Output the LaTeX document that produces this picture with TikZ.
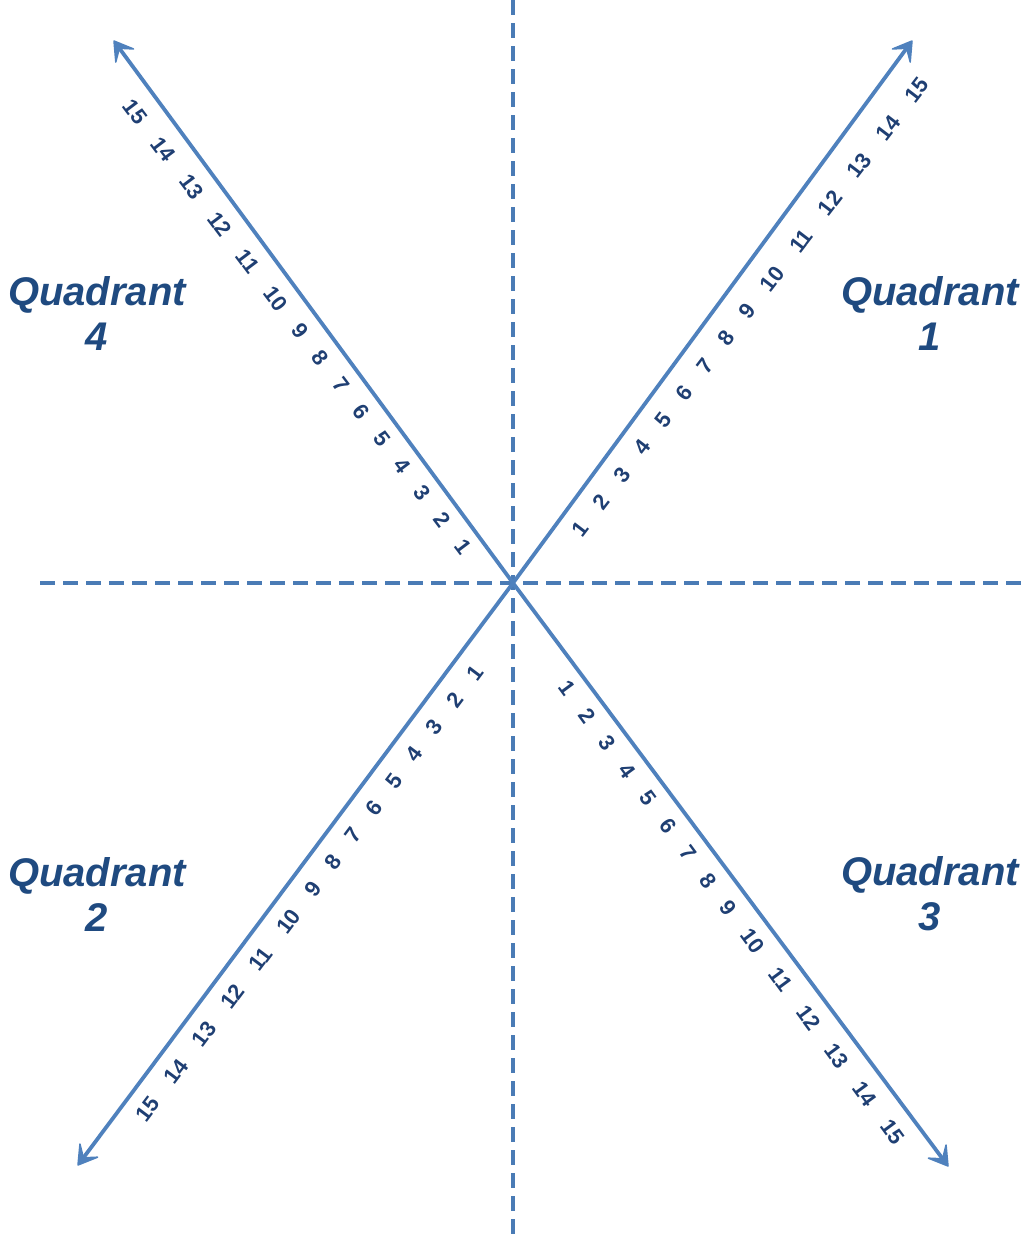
\documentclass[tikz,border=0pt]{standalone}
\usepackage{fontspec}
\setmainfont{Liberation Sans}
\usetikzlibrary{arrows.meta,calc}
\definecolor{axisblue}{HTML}{4F81BD}
\definecolor{dashblue}{HTML}{4A7BB5}
\definecolor{numblue}{HTML}{1F3F73}
\definecolor{quadblue}{HTML}{1F4A80}
\begin{document}
\begin{tikzpicture}[x=1pt,y=-1pt,
  axisline/.style={dashblue, line width=3.8pt, dash pattern=on 15pt off 8pt},
  ray/.style={axisblue, line width=3.8pt},
  tipshape/.style={fill=axisblue, draw=axisblue, line width=1.5pt, line join=round},
  num/.style={font=\fontsize{22}{22}\selectfont\bfseries, text=numblue, inner sep=0pt},
  quad/.style={font=\fontsize{40}{45}\selectfont\bfseries\itshape, text=quadblue, align=center, inner sep=0pt}]
\useasboundingbox (0,0) rectangle (1027,1240);
\coordinate (O) at (513,583);
\coordinate (vt) at (513,0);
\coordinate (vb) at (513,1240);
\coordinate (hl) at (40,583);
\coordinate (hr) at (1022,583);
\draw[axisline] (vt) -- (vb);
\draw[axisline] (hl) -- (hr);
% arrow tips
\coordinate (t1) at (912,41);
\coordinate (t4) at (114,41);
\coordinate (t2) at (78,1165);
\coordinate (t3) at (948,1166);
\foreach \t in {t1,t2,t3,t4}{
  \coordinate (\t-in) at ($(\t)!9pt!(O)$);
  \coordinate (\t-b) at ($(\t)!18pt!(O)$);
  \coordinate (\t-l) at ($(\t-b)!11pt!90:(\t)$);
  \coordinate (\t-r) at ($(\t-b)!11pt!-90:(\t)$);
  \draw[ray] (O) -- (\t-in);
  \filldraw[tipshape] (\t) -- (\t-l) -- (\t-in) -- (\t-r) -- cycle;
}
% number lines (centres of "1" and "15")
\coordinate (a1) at (580,529);  \coordinate (a15) at (917,90);
\coordinate (d1) at (463,547);  \coordinate (d15) at (135,112);
\coordinate (b1) at (475,673);  \coordinate (b15) at (148,1109);
\coordinate (c1) at (567,688);  \coordinate (c15) at (893,1132);
\foreach \k/\f in {1/0,2/0.062,3/0.124,4/0.186,5/0.248,6/0.310,7/0.372,8/0.434,9/0.496,10/0.570,11/0.656,12/0.742,13/0.828,14/0.914,15/1}{
  \node[num, rotate=52.5] (qa\k) at ($(a1)!\f!(a15)$) {\k};
  \node[num, rotate=-53.0] (qd\k) at ($(d1)!\f!(d15)$) {\k};
  \node[num, rotate=53.1] (qb\k) at ($(b1)!\f!(b15)$) {\k};
  \node[num, rotate=-53.7] (qc\k) at ($(c1)!\f!(c15)$) {\k};
}
\node[quad] (lab1) at (930,314) {Quadrant\\1};
\node[quad] (lab4) at (97,314) {Quadrant\\4};
\node[quad] (lab2) at (97,894) {Quadrant\\2};
\node[quad] (lab3) at (930,894) {Quadrant\\3};
\end{tikzpicture}
\end{document}
